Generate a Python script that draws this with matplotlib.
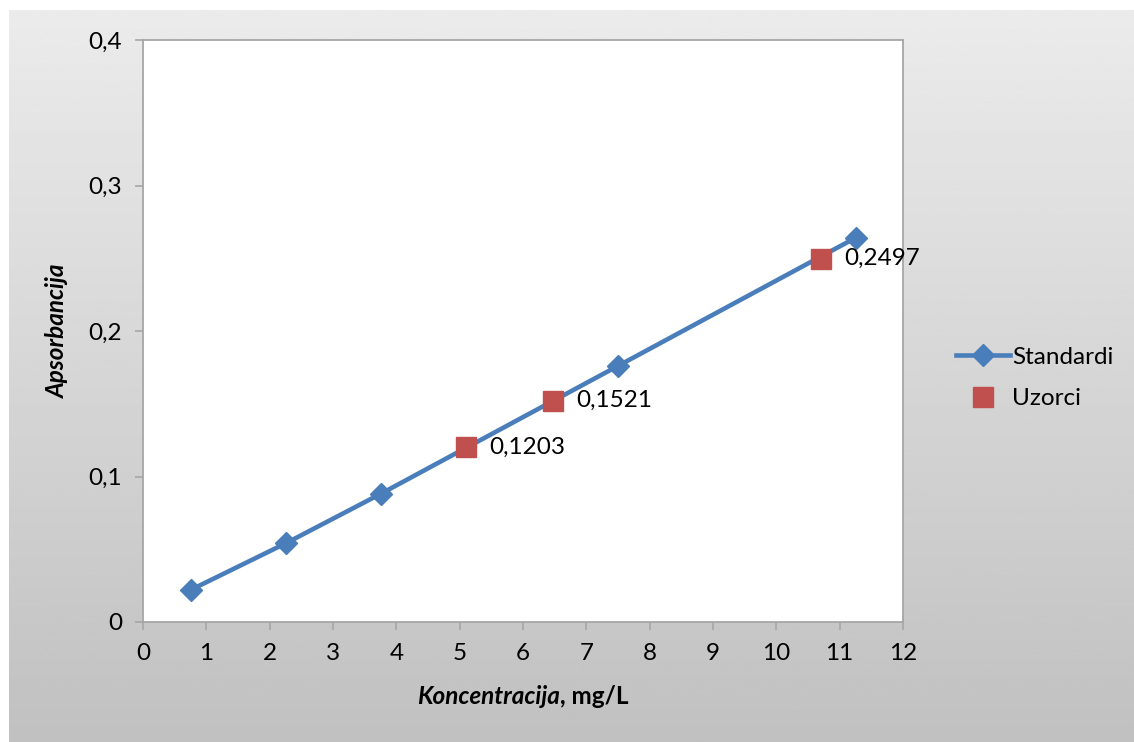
import numpy as np
import matplotlib
matplotlib.use("Agg")
import matplotlib.pyplot as plt

plt.rcParams["font.family"] = ["Lato", "DejaVu Sans"]

# calibration standards
std_conc = [0.75, 2.25, 3.75, 7.5, 11.25]
std_abs = [0.022, 0.054, 0.088, 0.176, 0.264]
# samples
smp_conc = [5.1, 6.47, 10.7]
smp_abs = [0.1203, 0.1521, 0.2497]
smp_labels = ["0,1203", "0,1521", "0,2497"]

xticks = list(range(0, 13))
yticks = [0, 0.1, 0.2, 0.3, 0.4]
ytick_labels = ["0", "0,1", "0,2", "0,3", "0,4"]

BLUE = "#4a7ebb"
RED = "#c0504d"
GRID = "#a6a6a6"
FS = 17.5

W, H = 1134, 742
fig = plt.figure(figsize=(W / 100, H / 100), dpi=100, facecolor="white")

# chart area with vertical grey gradient
bg = fig.add_axes([9 / W, 0, 1 - 9 / W, (H - 10) / H], zorder=-10)
grad = np.linspace(0.922, 0.755, 256).reshape(-1, 1)
bg.imshow(grad, cmap="gray", vmin=0, vmax=1, aspect="auto", extent=[0, 1, 0, 1])
bg.axis("off")

ax = fig.add_axes([143 / W, (H - 622) / H, 760 / W, 582 / H])
ax.set_facecolor("white")
ax.plot(std_conc, std_abs, color=BLUE, lw=3.3, marker="D", ms=11,
        mfc=BLUE, mec=BLUE, label="Standardi", zorder=3)
ax.plot(smp_conc, smp_abs, ls="none", marker="s", ms=14, mfc=RED, mec=RED,
        label="Uzorci", zorder=4)
for x, y, s in zip(smp_conc, smp_abs, smp_labels):
    ax.annotate(s, (x, y), xytext=(17, 0), textcoords="offset points",
                va="center", ha="left", fontsize=FS)

ax.set_xlim(0, 12)
ax.set_ylim(0, 0.4)
ax.set_xticks(xticks)
ax.set_yticks(yticks)
ax.set_yticklabels(ytick_labels)
ax.tick_params(direction="out", length=6, width=1.2, color=GRID,
               labelsize=FS, pad=9)
for sp in ax.spines.values():
    sp.set_color(GRID)
    sp.set_linewidth(1.3)

ax.set_ylabel("Apsorbancija", fontsize=FS, fontweight="bold",
              fontstyle="italic", labelpad=14)

# x label: italic word + upright unit, centred under the plot
t1 = fig.text(0, (H - 697) / H, "Koncentracija", fontsize=FS,
              fontweight="bold", fontstyle="italic", va="center", ha="left")
t2 = ax.annotate(", mg/L", xy=(1, 0), xycoords=t1, va="bottom", ha="left",
                 fontsize=FS, fontweight="bold")
r = fig.canvas.get_renderer()
w_total = t1.get_window_extent(r).width + t2.get_window_extent(r).width
t1.set_x((523 - w_total / 2) / W)

ax.legend(loc="center left", bbox_to_anchor=(1.057, 0.419), borderaxespad=0,
          frameon=False, fontsize=FS, numpoints=1, handlelength=2.2,
          labelspacing=0.85, handletextpad=0.1)

fig.savefig("out.png", dpi=100)
